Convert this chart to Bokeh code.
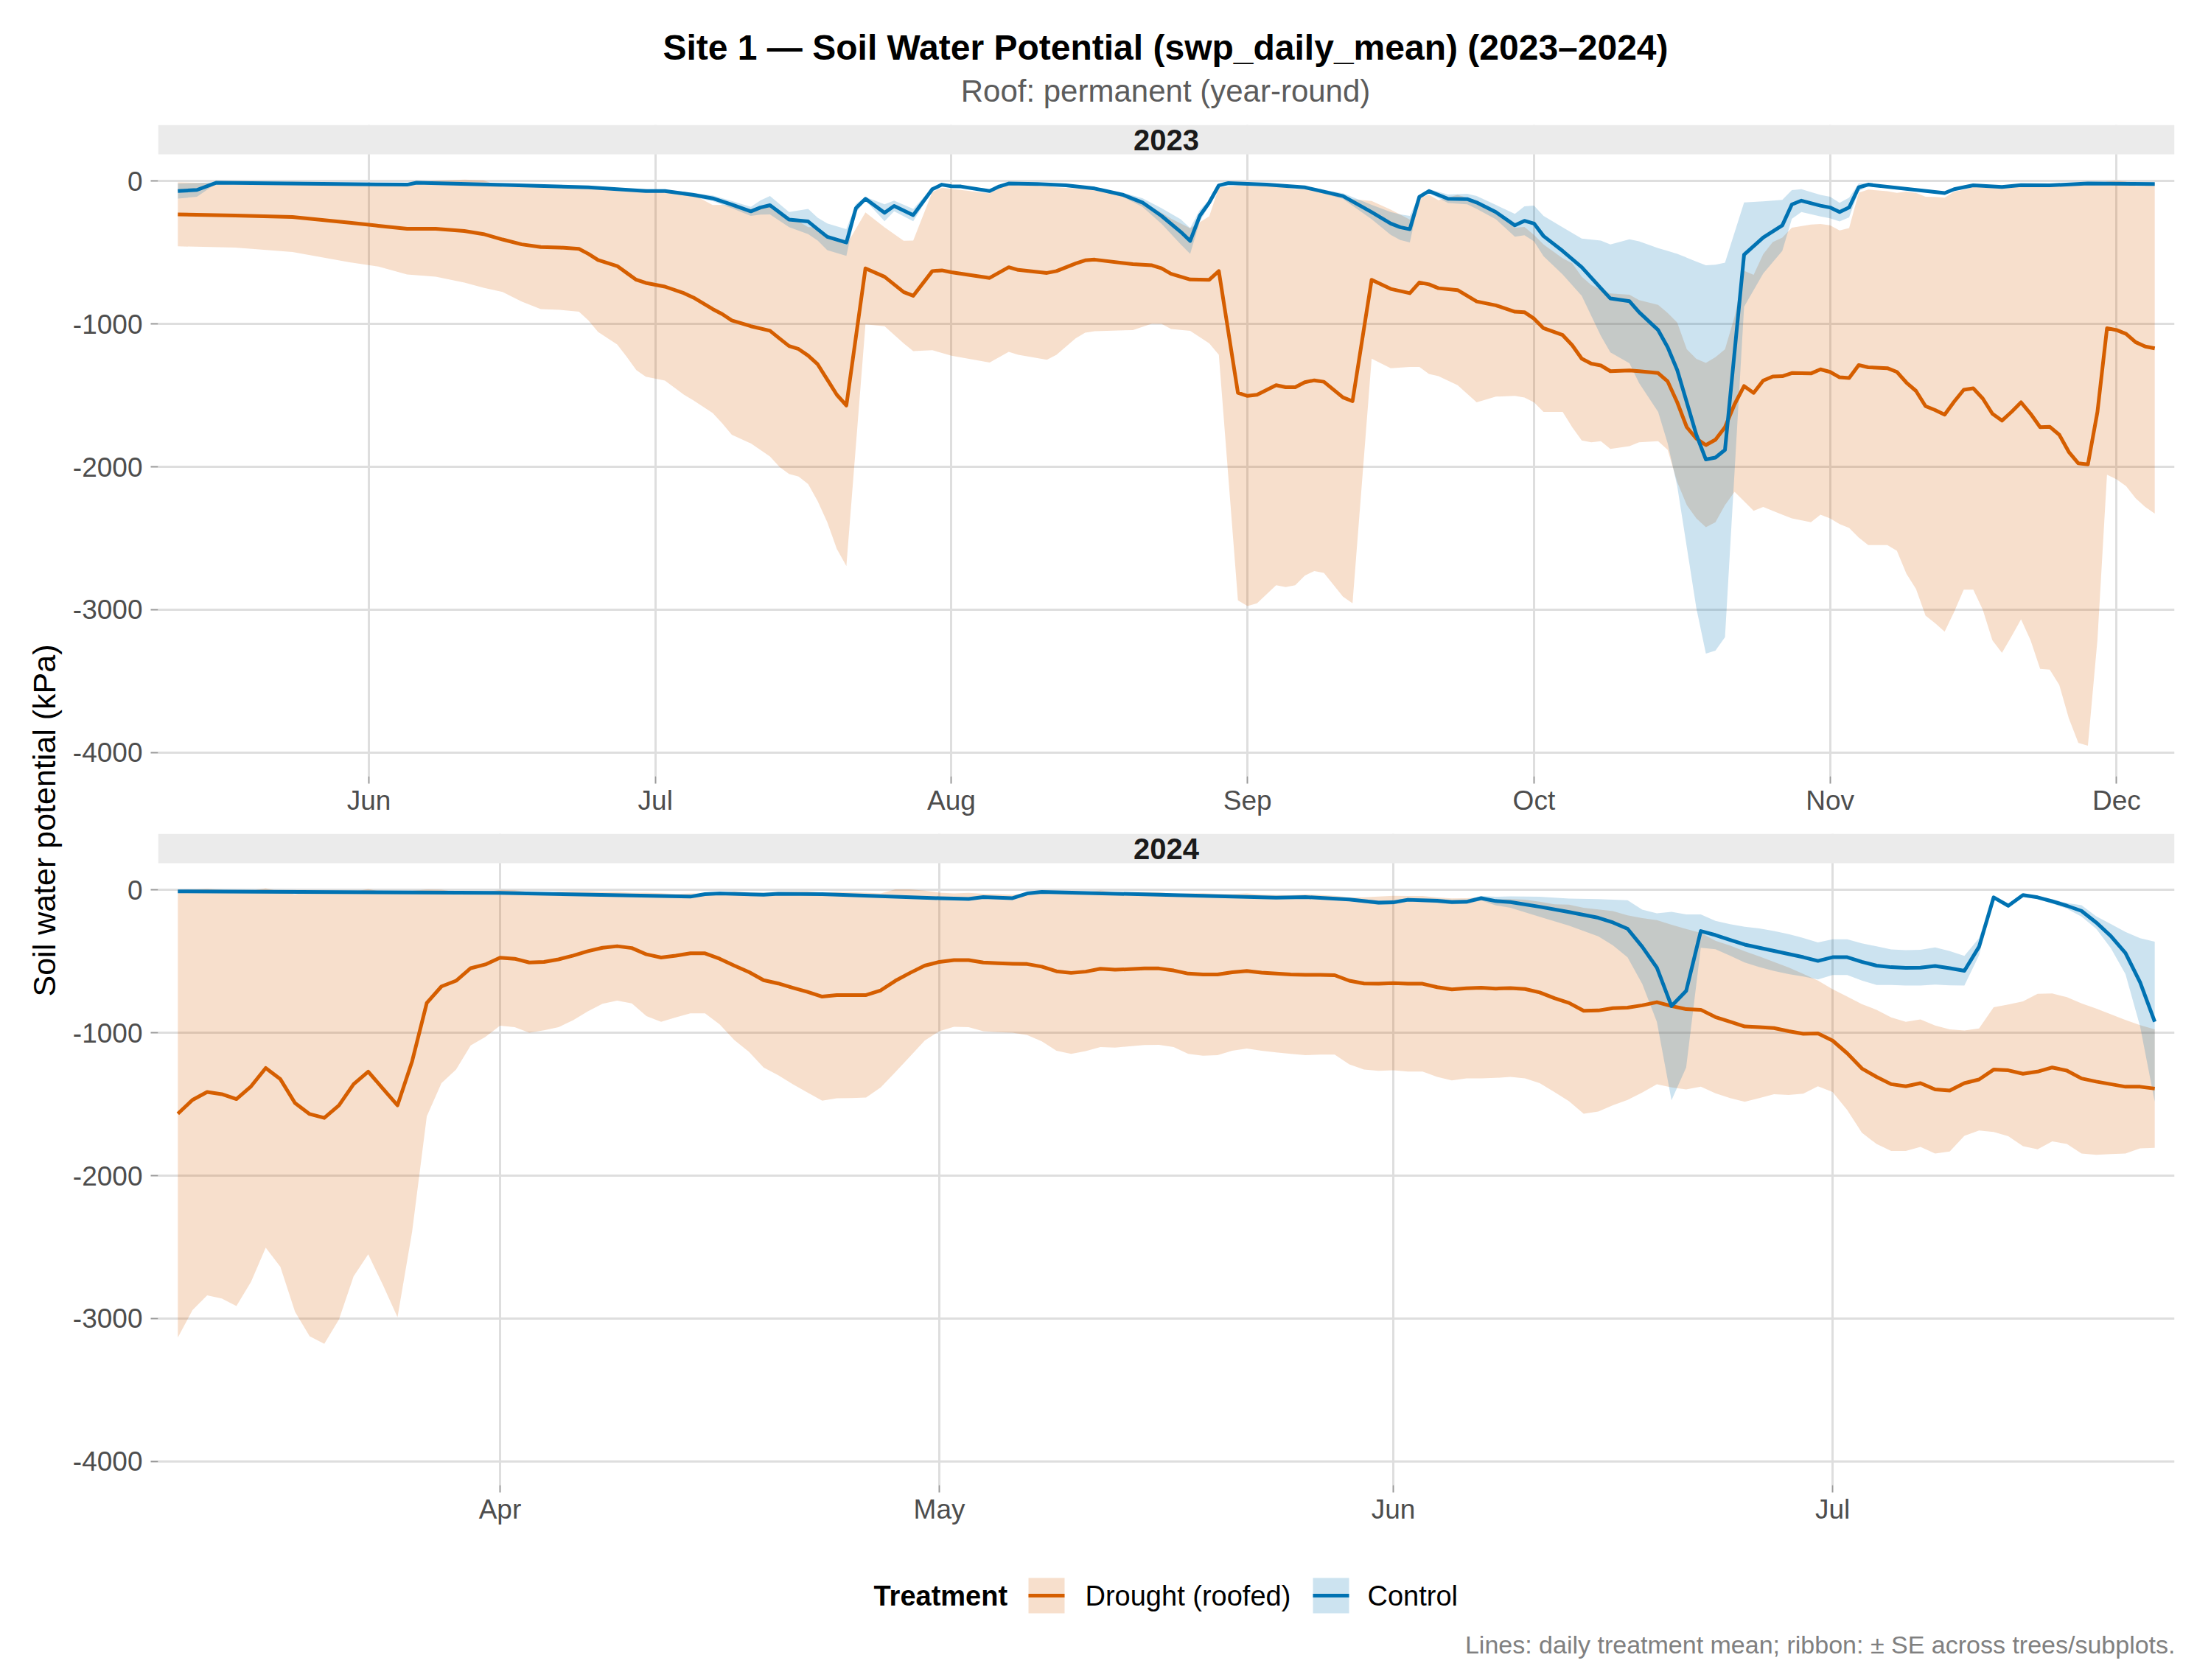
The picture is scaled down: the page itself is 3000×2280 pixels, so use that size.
import numpy as np
from bokeh.plotting import figure
from bokeh.layouts import column, row
from bokeh.models import Range1d, FixedTicker, DatetimeTickFormatter
from bokeh.embed import file_html
from bokeh.resources import INLINE
from bokeh.core.properties import value

FONT = "Liberation Sans"
DROUGHT_COL = "#D55E00"
CONTROL_COL = "#0072B2"

TITLE = "Site 1 \u2014 Soil Water Potential (swp_daily_mean) (2023\u20132024)"
SUBTITLE = "Roof: permanent (year-round)"
Y_LABEL = "Soil water potential (kPa)"
CAPTION = "Lines: daily treatment mean; ribbon: \u00b1 SE across trees/subplots."
LEGEND_TITLE = "Treatment"
TREATMENTS = ["Drought (roofed)", "Control"]
Y_TICKS = [-4000, -3000, -2000, -1000, 0]

# ---------------- 2023 (days since 2023-05-12) ----------------
START_2023 = "2023-05-12"
MONTHS_2023 = ["2023-06-01", "2023-07-01", "2023-08-01", "2023-09-01",
               "2023-10-01", "2023-11-01", "2023-12-01"]
drought23_day = [0, 6, 12, 18, 21, 24, 27, 30, 32, 34, 36, 38, 40, 42, 43, 44, 46, 47, 48, 49,
                 51, 53, 54, 56, 57, 58, 60, 62, 63, 64, 65, 66, 67, 68, 69, 70, 72, 74, 76, 77,
                 79, 80, 81, 85, 87, 88, 91, 92, 94, 95, 96, 100, 102, 103, 104, 106, 108, 109, 111, 112,
                 113, 115, 116, 117, 118, 119, 120, 122, 123, 125, 127, 129, 130, 131, 132, 134, 136, 138, 140, 141,
                 142, 143, 145, 146, 147, 148, 149, 150, 152, 153, 155, 156, 157, 158, 159, 160, 161, 162, 163, 164,
                 165, 166, 167, 168, 169, 171, 172, 173, 174, 175, 176, 177, 179, 180, 181, 182, 183, 184, 185, 186,
                 187, 188, 189, 190, 191, 192, 193, 194, 195, 196, 197, 198, 199, 200, 201, 202, 203, 204, 205, 206,
                 207]
drought23_mean = [-232, -240, -250, -290, -312, -333, -333, -349, -370, -408,
                  -442, -461, -464, -474, -509, -552, -594, -642, -690, -712,
                  -738, -784, -815, -895, -930, -975, -1015, -1047, -1101, -1154,
                  -1175, -1221, -1282, -1389, -1495, -1570, -610, -669, -776, -802,
                  -629, -624, -637, -677, -602, -621, -642, -629, -576, -554,
                  -549, -581, -589, -610, -648, -688, -690, -629, -1482, -1503,
                  -1495, -1428, -1442, -1442, -1407, -1394, -1404, -1514, -1540, -690,
                  -754, -784, -709, -722, -749, -762, -842, -869, -914, -917,
                  -962, -1029, -1077, -1148, -1242, -1277, -1290, -1330, -1325, -1330,
                  -1343, -1402, -1548, -1722, -1802, -1847, -1810, -1722, -1562, -1434,
                  -1482, -1396, -1367, -1365, -1343, -1346, -1317, -1335, -1373, -1378,
                  -1287, -1303, -1309, -1335, -1410, -1468, -1575, -1602, -1634, -1543,
                  -1460, -1450, -1522, -1628, -1676, -1615, -1548, -1628, -1722, -1719,
                  -1775, -1895, -1975, -1983, -1615, -1029, -1042, -1069, -1127, -1157,
                  -1170]
drought23_low = [-456, -464, -496, -568, -597, -653, -669, -709, -746, -776,
                 -842, -895, -901, -914, -975, -1055, -1143, -1229, -1322, -1369,
                 -1396, -1495, -1535, -1623, -1695, -1775, -1836, -1927, -2001, -2049,
                 -2068, -2121, -2241, -2388, -2574, -2694, -1002, -1015, -1135, -1189,
                 -1183, -1202, -1221, -1269, -1194, -1215, -1250, -1215, -1101, -1061,
                 -1050, -1042, -997, -999, -1034, -1047, -1135, -1215, -2934, -2974,
                 -2955, -2828, -2841, -2828, -2761, -2729, -2742, -2908, -2955, -1242,
                 -1309, -1300, -1300, -1349, -1365, -1428, -1548, -1508, -1503, -1514,
                 -1548, -1615, -1615, -1722, -1815, -1828, -1820, -1874, -1855, -1828,
                 -1820, -1881, -2107, -2268, -2361, -2422, -2388, -2268, -2175, -2241,
                 -2308, -2281, -2308, -2335, -2361, -2388, -2335, -2361, -2401, -2428,
                 -2494, -2548, -2548, -2588, -2748, -2854, -3041, -3094, -3153, -3014,
                 -2860, -2860, -3001, -3214, -3302, -3187, -3067, -3214, -3414, -3419,
                 -3526, -3760, -3933, -3952, -3210, -2055, -2087, -2135, -2220, -2281,
                 -2327]
control23_day = [0, 2, 4, 24, 25, 35, 43, 49, 51, 54, 56, 58, 60, 61, 62, 64, 66, 67, 68, 70,
                 71, 72, 74, 75, 77, 79, 80, 81, 82, 85, 86, 87, 90, 93, 96, 99, 101, 103, 105, 106,
                 107, 108, 109, 110, 114, 118, 122, 125, 127, 128, 129, 130, 131, 133, 135, 136, 138, 140, 141, 142,
                 143, 145, 147, 149, 150, 152, 153, 155, 156, 157, 158, 159, 160, 161, 162, 164, 166, 168, 169, 170,
                 172, 173, 174, 175, 176, 177, 185, 186, 188, 191, 193, 196, 200, 207]
control23_mean = [-69, -61, -11, -24, -11, -27, -43, -69, -69, -96,
                  -120, -163, -211, -184, -168, -269, -282, -336, -389, -429,
                  -189, -123, -221, -173, -237, -56, -24, -35, -37, -69,
                  -37, -16, -19, -29, -51, -96, -149, -243, -354, -418,
                  -243, -149, -29, -13, -24, -43, -104, -216, -296, -322,
                  -336, -109, -69, -123, -125, -149, -216, -309, -277, -296,
                  -384, -488, -602, -749, -821, -840, -917, -1042, -1162, -1322,
                  -1548, -1775, -1948, -1935, -1881, -514, -394, -309, -163, -136,
                  -171, -184, -216, -184, -43, -24, -83, -56, -29, -40,
                  -27, -29, -16, -19]
control23_se = [53, 48, 6, 6, 6, 6, 8, 8, 10, 15,
                20, 25, 32, 50, 64, 53, 88, 80, 93, 93,
                30, 13, 59, 37, 43, 10, 6, 6, 6, 8,
                6, 5, 5, 5, 8, 15, 30, 55, 88, 90,
                40, 20, 8, 5, 5, 8, 20, 50, 80, 90,
                93, 13, 15, 30, 37, 45, 50, 80, 101, 125,
                141, 165, 200, 333, 378, 434, 496, 573, 674, 813,
                1013, 1213, 1359, 1351, 1311, 365, 253, 179, 101, 80,
                75, 75, 65, 69, 27, 10, 10, 8, 6, 6,
                5, 5, 5, 5]

# ---------------- 2024 (days since 2024-03-10) ----------------
START_2024 = "2024-03-10"
MONTHS_2024 = ["2024-04-01", "2024-05-01", "2024-06-01", "2024-07-01"]
drought24_day = list(range(136))
drought24_mean = [-1566, -1469, -1414, -1429, -1463, -1374, -1246, -1324, -1491, -1568,
                  -1595, -1507, -1359, -1271, -1390, -1507, -1198, -790, -675, -635,
                  -547, -521, -474, -481, -507, -503, -485, -459, -428, -404,
                  -393, -406, -450, -472, -459, -443, -443, -481, -529, -574,
                  -631, -654, -684, -713, -746, -735, -735, -735, -702, -635,
                  -580, -529, -503, -490, -490, -507, -512, -516, -518, -536,
                  -569, -580, -571, -551, -558, -554, -549, -549, -563, -585,
                  -591, -591, -576, -567, -578, -585, -591, -593, -593, -596,
                  -635, -654, -656, -651, -656, -656, -680, -695, -688, -684,
                  -690, -686, -693, -717, -757, -790, -845, -843, -827, -823,
                  -807, -785, -812, -834, -838, -889, -922, -955, -960, -966,
                  -988, -1006, -1004, -1054, -1143, -1249, -1308, -1359, -1374, -1352,
                  -1396, -1403, -1352, -1326, -1257, -1262, -1286, -1271, -1242, -1264,
                  -1319, -1341, -1359, -1377, -1377, -1390]
drought24_low = [-3133, -2941, -2837, -2859, -2912, -2742, -2504, -2638, -2952, -3124,
                 -3177, -3007, -2705, -2550, -2764, -2991, -2390, -1584, -1352, -1257,
                 -1088, -1028, -949, -960, -999, -982, -960, -911, -849, -796,
                 -774, -794, -882, -922, -891, -863, -863, -940, -1050, -1132,
                 -1242, -1297, -1359, -1418, -1474, -1458, -1456, -1452, -1381, -1275,
                 -1165, -1054, -988, -957, -960, -988, -995, -999, -1015, -1059,
                 -1125, -1147, -1127, -1099, -1103, -1094, -1085, -1083, -1099, -1147,
                 -1160, -1156, -1125, -1110, -1125, -1136, -1147, -1156, -1152, -1152,
                 -1220, -1257, -1266, -1262, -1271, -1271, -1308, -1332, -1319, -1319,
                 -1315, -1308, -1319, -1352, -1414, -1478, -1566, -1550, -1507, -1469,
                 -1418, -1359, -1381, -1396, -1377, -1423, -1456, -1482, -1456, -1429,
                 -1434, -1425, -1374, -1414, -1540, -1699, -1778, -1826, -1826, -1798,
                 -1844, -1831, -1721, -1683, -1694, -1723, -1793, -1815, -1760, -1778,
                 -1844, -1853, -1849, -1844, -1809, -1805]
control24_day = [0, 22, 35, 36, 37, 40, 41, 44, 52, 54, 55, 57, 58, 59, 68, 75, 77, 80, 82, 83,
                 84, 86, 87, 88, 89, 90, 91, 93, 95, 97, 98, 99, 100, 101, 102, 103, 104, 105, 106, 107,
                 108, 109, 110, 111, 112, 113, 114, 115, 116, 117, 118, 119, 120, 121, 122, 123, 124, 125, 126, 127,
                 128, 129, 130, 131, 132, 133, 134, 135]
control24_mean = [-9, -20, -46, -29, -24, -33, -26, -29, -57, -62,
                  -49, -57, -24, -13, -35, -53, -49, -66, -88, -86,
                  -68, -75, -84, -82, -57, -77, -84, -117, -154, -194,
                  -227, -271, -397, -543, -812, -706, -287, -315, -349, -382,
                  -404, -426, -448, -470, -496, -470, -470, -503, -529, -540,
                  -545, -543, -532, -547, -565, -397, -51, -110, -35, -51,
                  -79, -110, -146, -227, -322, -441, -646, -922]
control24_se = [5, 5, 6, 5, 5, 5, 5, 5, 6, 6,
                6, 6, 5, 5, 6, 6, 6, 10, 15, 15,
                12, 15, 15, 15, 15, 30, 40, 70, 95, 130,
                160, 200, 260, 380, 660, 536, 117, 99, 110, 125,
                135, 140, 140, 135, 130, 125, 125, 130, 135, 125,
                124, 125, 130, 120, 104, 60, 10, 10, 5, 10,
                15, 20, 40, 44, 84, 148, 309, 560]

# ---------------- layout constants (pixels) ----------------
W_TOTAL = 3000
H_HEADER = 169
H_FOOTER = 186
W_YLAB = 90
PANEL_LEFT = 214
PANEL_RIGHT_PAD = 50
STRIP_H = 40
PLOT_H = 844
Y_MIN, Y_MAX = -4166, 188
Y_TOP = Y_MAX + STRIP_H * (Y_MAX - Y_MIN) / PLOT_H


def to_ms(start, days):
    d = np.datetime64(start) + np.array(days, dtype="timedelta64[D]")
    return d.astype("datetime64[ms]").astype(np.int64).astype(float)


def month_ms(months):
    return [float(np.datetime64(m).astype("datetime64[ms]").astype(np.int64)) for m in months]


def make_panel(label, start, months, d_day, d_mean, d_low, c_day, c_mean, c_se, height, border_bottom):
    dx = to_ms(start, d_day)
    cx = to_ms(start, c_day)
    dm = np.array(d_mean, float)
    dl = np.array(d_low, float)
    du = dm + (dm - dl)
    cm = np.array(c_mean, float)
    cs = np.array(c_se, float)
    lo = min(dx[0], cx[0])
    hi = max(dx[-1], cx[-1])
    pad = (hi - lo) * 0.01
    x0, x1 = lo - pad, hi + pad

    p = figure(width=W_TOTAL - W_YLAB, height=height, x_axis_type="datetime",
               x_range=Range1d(x0, x1), y_range=Range1d(Y_MIN, Y_TOP),
               output_backend="svg", toolbar_location=None,
               min_border_left=PANEL_LEFT - W_YLAB, min_border_right=PANEL_RIGHT_PAD,
               min_border_top=0, min_border_bottom=border_bottom)
    p.outline_line_color = None
    p.background_fill_color = "white"
    p.border_fill_color = "white"

    ticks_x = month_ms(months)
    p.xaxis.ticker = FixedTicker(ticks=ticks_x)
    p.xgrid.ticker = FixedTicker(ticks=ticks_x)
    p.yaxis.ticker = FixedTicker(ticks=Y_TICKS)
    p.ygrid.ticker = FixedTicker(ticks=Y_TICKS)
    p.yaxis.major_label_overrides = {t: str(t) for t in Y_TICKS}
    p.xaxis.formatter = DatetimeTickFormatter(
        microseconds="%b", milliseconds="%b", seconds="%b", minsec="%b", minutes="%b",
        hourmin="%b", hours="%b", days="%b", months="%b", years="%b")
    p.grid.grid_line_color = "#DEDEDE"
    p.grid.grid_line_width = 3

    for ax in (p.xaxis[0], p.yaxis[0]):
        ax.axis_line_color = None
        ax.major_tick_line_color = "#9A9A9A"
        ax.major_tick_line_width = 2
        ax.major_tick_out = 10
        ax.major_tick_in = 0
        ax.minor_tick_line_color = None
        ax.major_label_text_font = FONT
        ax.major_label_text_font_size = "37px"
        ax.major_label_text_color = "#4D4D4D"
    p.xaxis.major_label_standoff = 2
    p.yaxis.major_label_standoff = 11

    # ribbons (mean +/- SE), then lines
    p.varea(x=dx, y1=dl, y2=du, fill_color=DROUGHT_COL, fill_alpha=0.2)
    p.varea(x=cx, y1=cm - cs, y2=cm + cs, fill_color=CONTROL_COL, fill_alpha=0.2)
    p.line(dx, dm, line_color=DROUGHT_COL, line_width=5, line_join="round")
    p.line(cx, cm, line_color=CONTROL_COL, line_width=5, line_join="round")

    # facet strip
    p.quad(left=[x0], right=[x1], bottom=[Y_MAX], top=[Y_TOP], fill_color="#EBEBEB", line_color=None)
    p.text(x=[(x0 + x1) / 2], y=[(Y_MAX + Y_TOP) / 2], text=[label],
           text_font=value(FONT), text_font_style="bold", text_font_size="40px",
           text_align="center", text_baseline="middle", text_color="#1A1A1A")
    return p


def blank(width, height):
    p = figure(width=width, height=height, x_range=Range1d(0, width), y_range=Range1d(0, height),
               x_axis_type=None, y_axis_type=None, output_backend="svg", toolbar_location=None,
               min_border=0)
    p.outline_line_color = None
    p.grid.visible = False
    return p


top = make_panel("2023", START_2023, MONTHS_2023, drought23_day, drought23_mean, drought23_low,
                 control23_day, control23_mean, control23_se, height=962, border_bottom=962 - (STRIP_H + PLOT_H))
bottom = make_panel("2024", START_2024, MONTHS_2024, drought24_day, drought24_mean, drought24_low,
                    control24_day, control24_mean, control24_se, height=963, border_bottom=963 - (STRIP_H + PLOT_H))

# header with title and subtitle (y given as text centre line, from top of page)
header = blank(W_TOTAL, H_HEADER)
header.text(x=[1581], y=[H_HEADER - 64], text=[TITLE], text_font=value(FONT), text_font_style="bold",
            text_font_size="48px", text_align="center", text_baseline="middle", text_color="black")
header.text(x=[1581], y=[H_HEADER - 123], text=[SUBTITLE], text_font=value(FONT),
            text_font_size="42px", text_align="center", text_baseline="middle", text_color="#5C5C5C")

# shared y-axis title
H_MID = 962 + 963
ylab = blank(W_YLAB, H_MID)
ylab.text(x=[59], y=[H_MID - (1113 - H_HEADER)], text=[Y_LABEL], text_font=value(FONT),
          text_font_size="43px", angle=np.pi / 2, text_align="center", text_baseline="middle",
          text_color="black")

# footer: legend + caption
footer = blank(W_TOTAL, H_FOOTER)
fy = lambda y_full: 2280 - y_full
footer.text(x=[1185], y=[fy(2165)], text=[LEGEND_TITLE], text_font=value(FONT), text_font_style="bold",
            text_font_size="38px", text_align="left", text_baseline="middle", text_color="black")
key_left = [1395, 1781]
label_left = [1472, 1855]
for col, kl, ll, name in zip([DROUGHT_COL, CONTROL_COL], key_left, label_left, TREATMENTS):
    footer.quad(left=[kl], right=[kl + 49], bottom=[fy(2189)], top=[fy(2141)],
                fill_color=col, fill_alpha=0.2, line_color=None)
    footer.segment(x0=[kl], y0=[fy(2165)], x1=[kl + 49], y1=[fy(2165)], line_color=col, line_width=5)
    footer.text(x=[ll], y=[fy(2165)], text=[name], text_font=value(FONT), text_font_size="38px",
                text_align="left", text_baseline="middle", text_color="black")
footer.text(x=[2951], y=[fy(2231)], text=[CAPTION], text_font=value(FONT), text_font_size="34px",
            text_align="right", text_baseline="middle", text_color="#808080")

layout = column(header, row(ylab, column(top, bottom)), footer)

open("out.html", "w").write(file_html(layout, INLINE))
